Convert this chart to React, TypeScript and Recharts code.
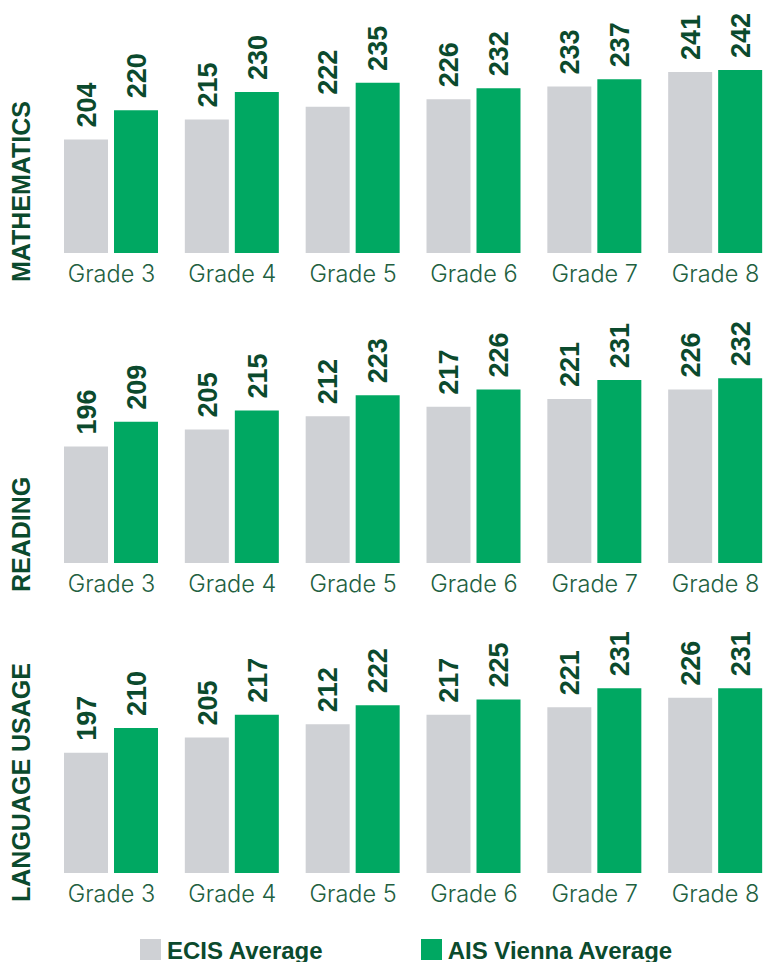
import { BarChart, Bar, XAxis, YAxis, Legend, LabelList, Label } from 'recharts'

// MAP growth scores, ECIS vs AIS Vienna

const grades = ['Grade 3', 'Grade 4', 'Grade 5', 'Grade 6', 'Grade 7', 'Grade 8']

const mathEcis = [204, 215, 222, 226, 233, 241]
const mathAis = [220, 230, 235, 232, 237, 242]

const readingEcis = [196, 205, 212, 217, 221, 226]
const readingAis = [209, 215, 223, 226, 231, 232]

const languageEcis = [197, 205, 212, 217, 221, 226]
const languageAis = [210, 217, 222, 225, 231, 231]

const seriesOrder = ['ecis', 'ais']

const GRAY = '#cfd1d5'
const GREEN = '#00a862'
const DARK = '#0b4a2d'
const TICK = '#22603f'
const BOLD_FONT = '"Liberation Sans", Arial, sans-serif'
const TICK_FONT = 'Inter, "Noto Sans", sans-serif'

const PLOT_H = 253
const AXIS_H = 57

const buildRows = (ecis: number[], ais: number[]) =>
  grades.map((grade, i) => ({ grade, ecis: ecis[i], ais: ais[i] }))

const ValueLabel = (props: any) => {
  const { x, y, width, value } = props
  const cx = Number(x) + Number(width) / 2
  const cy = Number(y) - 12
  return (
    <text
      x={cx}
      y={cy}
      dy="0.36em"
      transform={`rotate(-90 ${cx} ${cy})`}
      fill={DARK}
      fontSize={27}
      fontWeight={700}
      fontFamily={BOLD_FONT}
    >
      {value}
    </text>
  )
}

const GradeTick = (props: any) => {
  const { x, y, payload } = props
  return (
    <text
      x={x}
      y={y}
      dy="0.73em"
      textAnchor="middle"
      fill={TICK}
      style={{ fontFamily: TICK_FONT, fontSize: 23.5, fontWeight: 300 }}
    >
      {payload.value}
    </text>
  )
}

const renderLegend = (props: any) => {
  const payload = [...(props.payload || [])].sort(
    (a: any, b: any) => seriesOrder.indexOf(a.dataKey) - seriesOrder.indexOf(b.dataKey)
  )
  return (
    <div style={{ display: 'flex', paddingLeft: 140, whiteSpace: 'nowrap' }}>
      {payload.map((entry: any) => (
        <div key={entry.value} style={{ display: 'flex', alignItems: 'flex-start', marginRight: 98, flexShrink: 0 }}>
          <span style={{ width: 21, height: 21, background: entry.color, marginRight: 6, display: 'inline-block' }} />
          <span style={{ fontFamily: BOLD_FONT, fontSize: 24, fontWeight: 700, color: DARK, lineHeight: '24px' }}>
            {entry.value}
          </span>
        </div>
      ))}
    </div>
  )
}

interface PanelProps {
  title: string
  ecis: number[]
  ais: number[]
  domain: [number, number]
  top: number
  withLegend?: boolean
}

function Panel({ title, ecis, ais, domain, top, withLegend = false }: PanelProps) {
  const extra = withLegend ? 32 : 0
  const height = PLOT_H + AXIS_H + extra

  const renderTitle = (p: any) => {
    const vb = p.viewBox || {}
    const cx = 21
    const cy = (vb.y ?? 0) + (vb.height ?? PLOT_H) + 29
    return (
      <text
        x={cx}
        y={cy}
        dy="0.36em"
        transform={`rotate(-90 ${cx} ${cy})`}
        fill={DARK}
        fontSize={25}
        fontWeight={700}
        fontFamily={BOLD_FONT}
      >
        {title}
      </text>
    )
  }

  return (
    <div style={{ position: 'absolute', top, left: 0 }}>
      <BarChart
        width={776}
        height={height}
        data={buildRows(ecis, ais)}
        margin={{ top: 0, right: 0, bottom: extra, left: 0 }}
        barSize={44}
        barGap={6}
      >
        <XAxis
          dataKey="grade"
          height={AXIS_H}
          axisLine={false}
          tickLine={false}
          tickSize={6}
          tickMargin={6}
          tick={<GradeTick />}
          interval={0}
        />
        <YAxis
          type="number"
          width={51}
          domain={domain}
          allowDataOverflow
          tick={false}
          axisLine={false}
          tickLine={false}
        >
          <Label content={renderTitle} />
        </YAxis>
        {withLegend && (
          <Legend
            layout="horizontal"
            verticalAlign="middle"
            align="center"
            content={renderLegend}
            wrapperStyle={{ top: 319, left: 0, width: 770 }}
          />
        )}
        <Bar dataKey="ecis" name="ECIS Average" fill={GRAY} isAnimationActive={false}>
          <LabelList dataKey="ecis" content={ValueLabel} />
        </Bar>
        <Bar dataKey="ais" name="AIS Vienna Average" fill={GREEN} isAnimationActive={false}>
          <LabelList dataKey="ais" content={ValueLabel} />
        </Bar>
      </BarChart>
    </div>
  )
}

export default function App() {
  return (
    <div
      style={{
        position: 'absolute',
        top: 0,
        left: 0,
        width: 770,
        height: 962,
        overflow: 'hidden',
        background: '#fff',
      }}
    >
      <Panel title="MATHEMATICS" ecis={mathEcis} ais={mathAis} domain={[142, 280.3]} top={0} />
      <Panel title="READING" ecis={readingEcis} ais={readingAis} domain={[134.5, 268]} top={310} />
      <Panel
        title="LANGUAGE USAGE"
        ecis={languageEcis}
        ais={languageAis}
        domain={[133.7, 266.9]}
        top={620}
        withLegend
      />
    </div>
  )
}
